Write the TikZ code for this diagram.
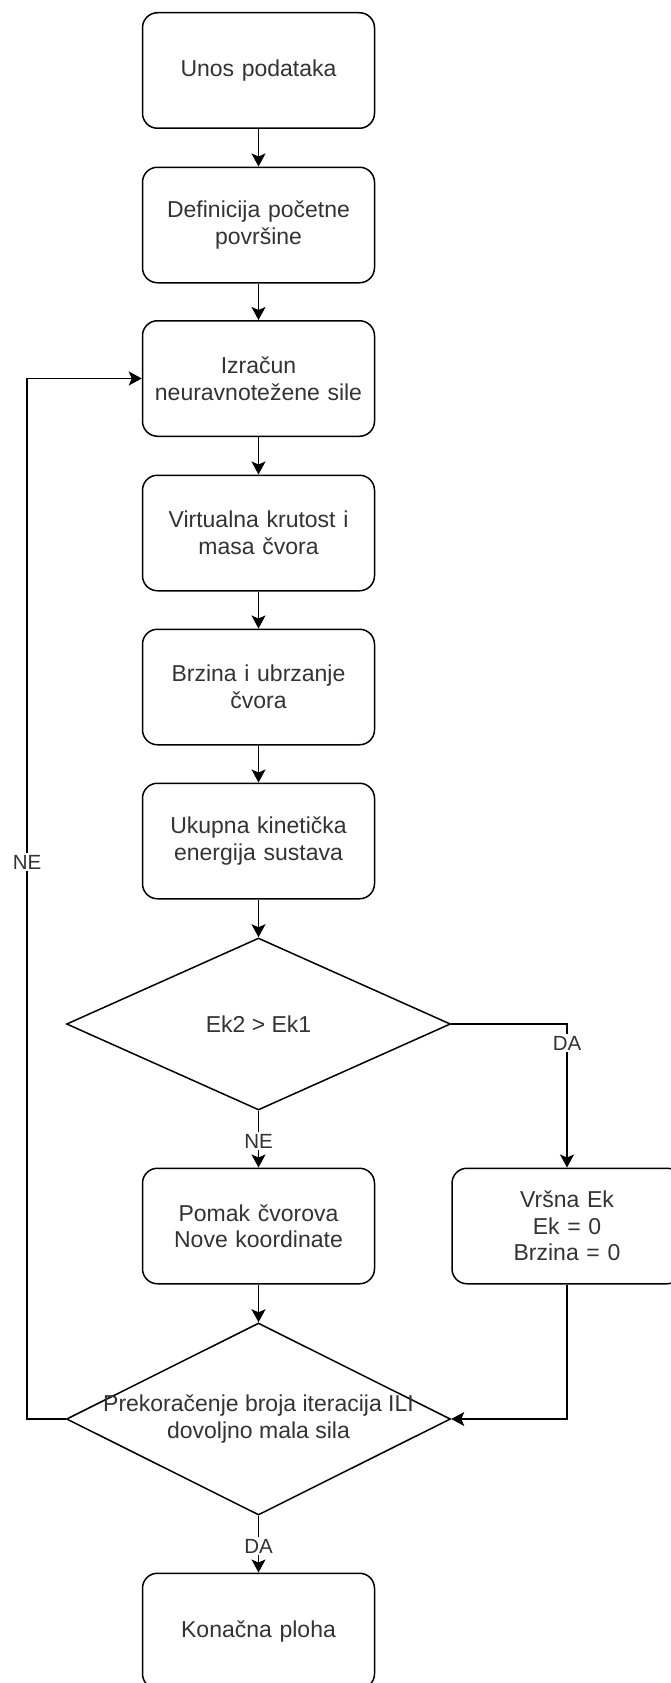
\documentclass[tikz,border=0pt]{standalone}
\usepackage{fontspec}
\setmainfont{Liberation Sans}
\usetikzlibrary{shapes.geometric,arrows.meta}
\begin{document}
\begin{tikzpicture}[x=1pt,y=-1pt,
  line width=1.5pt,
  txtcol/.style={text=black!80},
  proc/.style={draw=black, rounded corners=15pt, minimum width=232pt, minimum height=115.5pt,
    text width=215pt, align=center, txtcol, font=\fontsize{23pt}{26.5pt}\selectfont},
  dec/.style={draw=black, diamond, inner sep=0pt},
  dectxt/.style={align=center, txtcol, font=\fontsize{23pt}{26.5pt}\selectfont},
  lab/.style={fill=white, inner sep=1.5pt, txtcol, font=\fontsize{20.5pt}{24pt}\selectfont},
  arr/.style={-{Stealth[length=13pt,width=14pt,inset=3pt]}}
]
\clip (0,0) rectangle (671,1683);
\fill[white] (0,0) rectangle (671,1683);

\node[proc] (b1) at (258.5,70.5) {Unos podataka};
\node[proc] (b2) at (258.5,225) {Definicija početne\\površine};
\node[proc] (b3) at (258.5,378.5) {Izračun\\neuravnotežene sile};
\node[proc] (b4) at (258.5,533) {Virtualna krutost i\\masa čvora};
\node[proc] (b5) at (258.5,687) {Brzina i ubrzanje\\čvora};
\node[proc] (b6) at (258.5,841) {Ukupna kinetička\\energija sustava};
\node[dec, minimum width=384pt, minimum height=172pt] (d1) at (258.5,1024) {};
\node[dectxt] (d1t) at (d1.center) {Ek2 > Ek1};
\node[proc] (b7) at (258.5,1226) {Pomak čvorova\\Nove koordinate};
\node[proc, minimum width=230pt] (rb) at (567,1226) {Vršna Ek\\Ek = 0\\Brzina = 0};
\node[dec, minimum width=384pt, minimum height=192pt] (d2) at (258.5,1419) {};
\node[dectxt] (d2t) at (d2.center) {Prekoračenje broja iteracija ILI\\dovoljno mala sila};
\node[proc] (b8) at (258.5,1631) {Konačna ploha};

\draw[arr] (b1.south) -- (b2.north);
\draw[arr] (b2.south) -- (b3.north);
\draw[arr] (b3.south) -- (b4.north);
\draw[arr] (b4.south) -- (b5.north);
\draw[arr] (b5.south) -- (b6.north);
\draw[arr] (b6.south) -- (d1.north);
\draw[arr] (d1.south) -- (b7.north);
\draw[arr] (d1.east) -| (rb.north);
\draw[arr] (b7.south) -- (d2.north);
\draw[arr] (rb.south) |- (d2.east);
\coordinate (lp) at (27,1419);
\draw[arr] (d2.west) -- (lp) |- (b3.west);
\draw[arr] (d2.south) -- (b8.north);

\node[lab] (l1) at (258.5,1141) {NE};
\node[lab] (l2) at (567,1043) {DA};
\node[lab] (l3) at (27,862) {NE};
\node[lab] (l4) at (258.5,1546) {DA};
\end{tikzpicture}
\end{document}
